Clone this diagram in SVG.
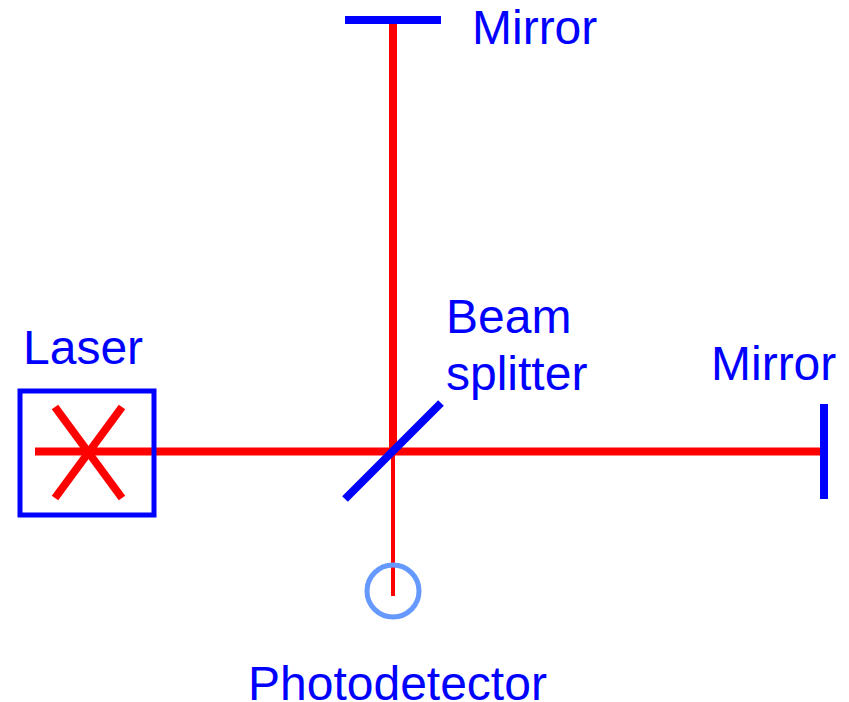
<svg xmlns="http://www.w3.org/2000/svg" width="849" height="702" viewBox="0 0 849 702">
<style>
.b{stroke:#ff0000;fill:none;stroke-width:8}
.m{stroke:#0000ff;fill:none;stroke-width:8}
.box{stroke:#0000ff;fill:none;stroke-width:5}
text{font-family:"Liberation Sans",Arial,sans-serif;font-size:48px;fill:#0000ff}
</style>
<rect width="849" height="702" fill="#ffffff"/>
<g id="connectors">
<line class="b" x1="393" y1="20" x2="393" y2="451"/>
<line class="b" x1="35" y1="451.5" x2="824" y2="451.5"/>
<line x1="393" y1="451" x2="393" y2="596" stroke="#ff0000" stroke-width="4"/>
</g>
<g id="laser">
<rect class="box" x="20" y="391" width="134" height="124"/>
<line class="b" x1="55" y1="407" x2="122" y2="498"/>
<line class="b" x1="55" y1="498" x2="122" y2="407"/>
<text x="23" y="364">Laser</text>
</g>
<g id="mirror-top">
<line class="m" x1="345" y1="20" x2="441" y2="20"/>
<text x="472" y="44">Mirror</text>
</g>
<g id="mirror-right">
<line class="m" x1="824" y1="404" x2="824" y2="499"/>
<text x="711" y="380">Mirror</text>
</g>
<g id="beam-splitter">
<line class="m" x1="345" y1="499" x2="441" y2="403"/>
<text x="446" y="333">Beam</text>
<text x="446" y="390">splitter</text>
</g>
<g id="photodetector">
<circle cx="393" cy="591" r="26" fill="none" stroke="#6699ff" stroke-width="5"/>
<text x="248" y="700">Photodetector</text>
</g>
</svg>
